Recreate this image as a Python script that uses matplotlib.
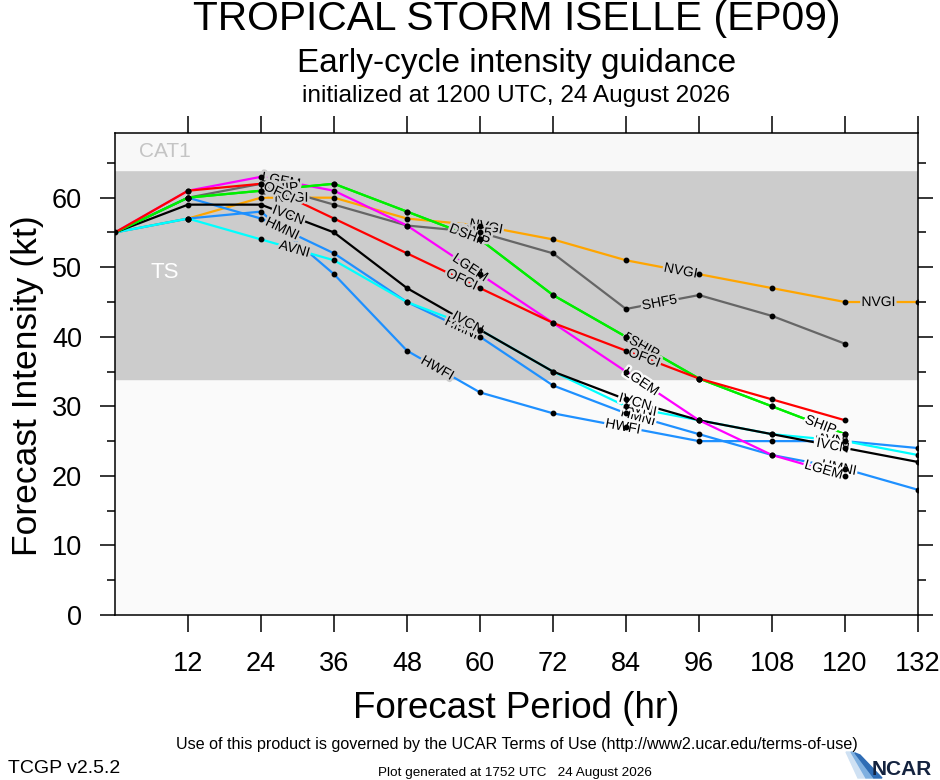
import numpy as np
import matplotlib
matplotlib.use("Agg")
import matplotlib.pyplot as plt
import matplotlib.patheffects as pe
from matplotlib.patches import Polygon

plt.rcParams['font.family'] = ['Liberation Sans', 'DejaVu Sans']

# forecast hours and intensities (kt)
hours = [0, 12, 24, 36, 48, 60, 72, 84, 96, 108, 120, 132]

nvgi = [55, 57, 60, 60, 57, 56, 54, 51, 49, 47, 45, 45]
shf5 = [55, 60, 62, 59, 56, 55, 52, 44, 46, 43, 39]
hwfi = [55, 57, 58, 49, 38, 32, 29, 27, 25, 25, 25, 24]
hmni = [55, 60, 57, 52, 45, 40, 33, 29, 26, 23, 21, 18]
avni = [55, 57, 54, 51, 45, 41, 35, 30, 28, 26, 25, 23]
ivcn = [55, 59, 59, 55, 47, 41, 35, 31, 28, 26, 24, 22]
lgem = [55, 61, 63, 61, 56, 49, 42, 35, 28, 23, 20]
dshp = [55, 60, 61, 62, 58, 54, 46, 40, 34, 30, 26]
ship = [55, 60, 61, 62, 58, 54, 46, 40, 34, 30, 26]
ofci = [55, 61, 62, 57, 52, 47, 42, 38, 34, 31, 28]

models = ['NVGI', 'SHF5', 'HWFI', 'HMNI', 'AVNI', 'IVCN', 'LGEM', 'DSHP', 'SHIP', 'OFCI']
values = [nvgi, shf5, hwfi, hmni, avni, ivcn, lgem, dshp, ship, ofci]
colors = ['#ffa500', '#666666', '#1e90ff', '#1e90ff', '#00ffff', 'black',
          '#ff00ff', '#00ee00', '#00ee00', '#ff0000']
# hours where the inline line labels sit
label_hours = [[29, 61, 93, 125.5], [27, 59, 89.5], [53, 83.5, 118],
               [27.5, 57, 86, 119], [29.5, 58, 86.5, 118], [28.5, 58, 85.5, 118],
               [27.3, 58.4, 86.5, 116.5], [27, 58, 86.5], [27.5, 59, 87, 116],
               [27, 57, 87]]

ymax = 69.3

fig = plt.figure(figsize=(9.4, 7.8), dpi=100)
ax = fig.add_axes([115/940, 165/780, 803/940, 482/780])

ax.axhspan(0, 34, color='#fafafa', zorder=0)
ax.axhspan(34, 64, color='#cccccc', zorder=0)
ax.axhspan(64, ymax, color='#f8f8f8', zorder=0)
ax.text(4.0, 66.6, 'CAT1', color='#c4c4c4', fontsize=15, va='center', ha='left')
ax.text(5.8, 49.2, 'TS', color='white', fontsize=16, va='center', ha='left')

for name, vals, col, lh in zip(models, values, colors, label_hours):
    hrs = hours[:len(vals)]
    ax.plot(hrs, vals, color=col, lw=1.6, zorder=2, solid_capstyle='butt')
    ax.plot(hrs[1:], vals[1:], 'o', ms=3.2, color='black', zorder=4)
    for h in lh:
        i = min(int(h // 12), len(vals) - 2)
        v = np.interp(h, hrs, vals)
        ang = np.degrees(np.arctan2(vals[i + 1] - vals[i], 12))
        bg = '#cccccc' if 34 <= v <= 64 else '#fafafa'
        ax.text(h, v, name, fontsize=10, ha='center', va='center',
                rotation=ang, transform_rotates_text=True, rotation_mode='anchor',
                zorder=3, path_effects=[pe.withStroke(linewidth=3.5, foreground=bg)])
ax.plot([0], [55], 'o', ms=3.2, color='black', zorder=4)

ax.set_xlim(0, 132)
ax.set_ylim(0, ymax)
ax.set_xticks(range(12, 133, 12))
ax.set_yticks(range(0, 61, 10))
ax.set_yticks(range(5, 70, 10), minor=True)
ax.tick_params(axis='x', direction='out', length=12, width=1.1, top=True,
               labelsize=19.5, pad=14)
ax.tick_params(axis='y', which='major', direction='out', length=10.8, width=1.1,
               right=True, labelsize=19.5, pad=13)
ax.tick_params(axis='y', which='minor', direction='out', length=5.8, width=1.1,
               right=True)
for s in ax.spines.values():
    s.set_linewidth(1.1)

cx = (115 + 918) / 2 / 940
fig.text(cx, 1 - 30/780, 'TROPICAL STORM ISELLE (EP09)', ha='center', va='baseline', fontsize=29.3)
fig.text(cx, 1 - 72/780, 'Early-cycle intensity guidance', ha='center', va='baseline', fontsize=24)
fig.text(cx, 1 - 102/780, 'initialized at 1200 UTC, 24 August 2026', ha='center',
         va='baseline', fontsize=17.6)
fig.text(cx, 1 - 718/780, 'Forecast Period (hr)', ha='center', va='baseline', fontsize=26.5)
fig.text(28/940, 1 - 386/780, 'Forecast Intensity (kt)', ha='center', va='center',
         rotation=90, fontsize=25.5)
fig.text(cx, 1 - 749/780,
         'Use of this product is governed by the UCAR Terms of Use (http://www2.ucar.edu/terms-of-use)',
         ha='center', va='baseline', fontsize=11.6)
fig.text(8/940, 1 - 773/780, 'TCGP v2.5.2', ha='left', va='baseline', fontsize=14)
fig.text(515/940, 1 - 776/780, 'Plot generated at 1752 UTC   24 August 2026',
         ha='center', va='baseline', fontsize=9.7)

# NCAR logo: blue swoosh plus wordmark
swoosh = [('#cfe1f3', [(846, 752), (851, 752), (866, 778), (858, 778)]),
          ('#7fb0e0', [(851, 752), (855, 753), (874, 778), (866, 778)]),
          ('#2f6db5', [(855, 753), (860, 755), (882, 778), (874, 778)])]
for c, pts in swoosh:
    fig.patches.append(Polygon([(x / 940, 1 - y / 780) for x, y in pts],
                               closed=True, transform=fig.transFigure, color=c))
fig.text(872/940, 1 - 775/780, 'NCAR', ha='left', va='baseline', fontsize=15,
         fontweight='bold', color='#14233f')

fig.savefig('out.png', dpi=100)
